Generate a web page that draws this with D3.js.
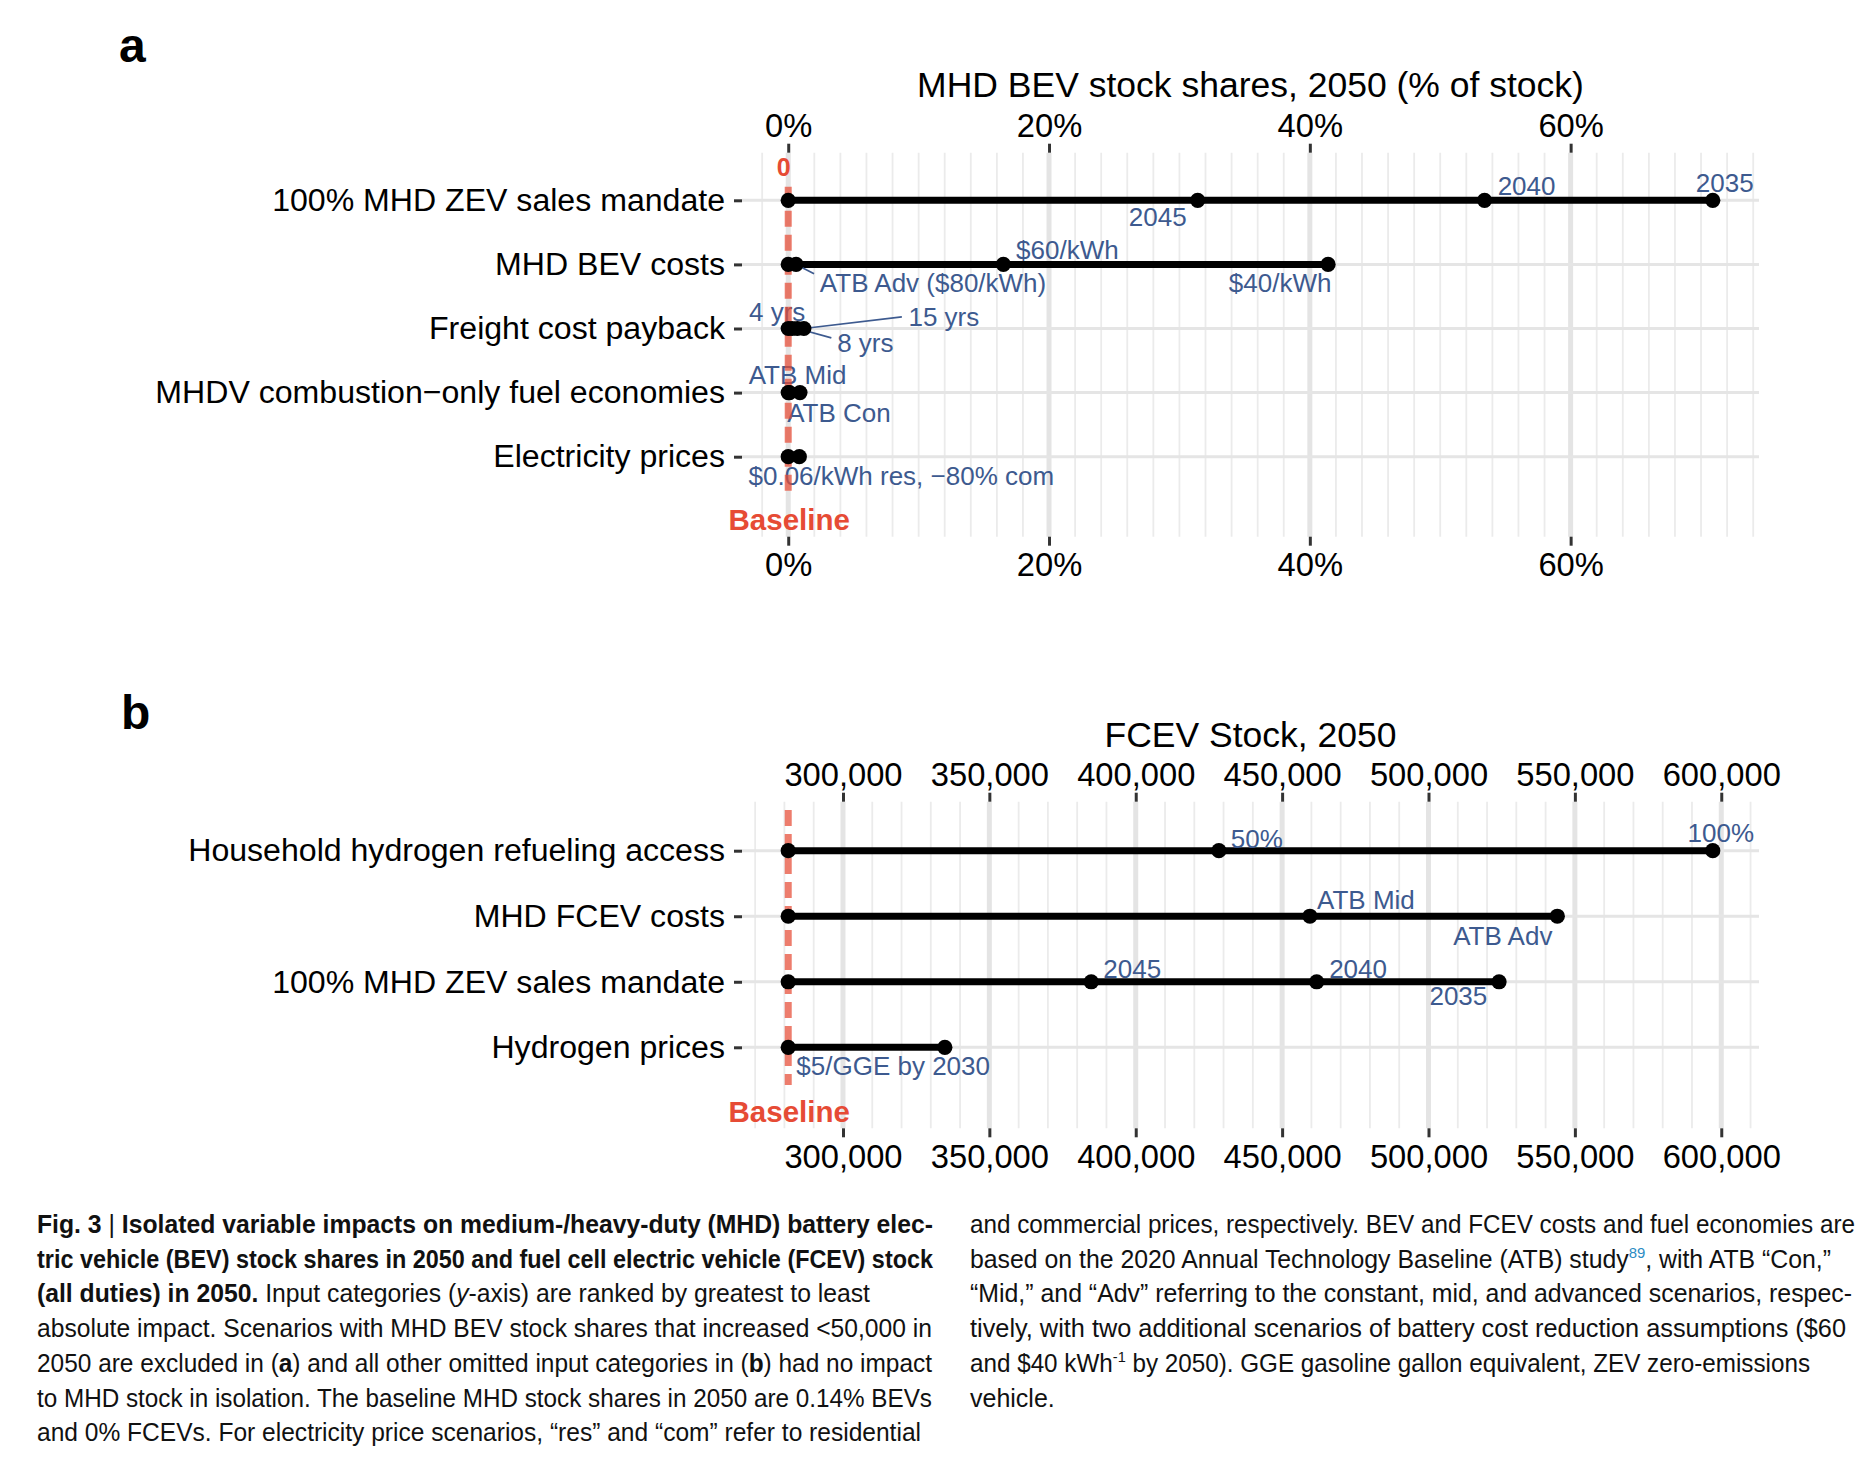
<!DOCTYPE html>
<html><head><meta charset="utf-8">
<script src="https://cdn.jsdelivr.net/npm/d3@7"></script>
<style>body{margin:0;background:#fff}svg{display:block}</style>
</head><body>
<svg id="c" width="1876" height="1459"></svg>
<script>
// ---------------- DATA ----------------
// Panel a: MHD BEV stock shares, 2050 (% of stock)
const bevCategories = ["100% MHD ZEV sales mandate", "MHD BEV costs", "Freight cost payback",
  "MHDV combustion\u2212only fuel economies", "Electricity prices"];
const bevBaseline = 0;
const bevScenarioCategory = ["100% MHD ZEV sales mandate","100% MHD ZEV sales mandate","100% MHD ZEV sales mandate",
  "MHD BEV costs","MHD BEV costs","MHD BEV costs",
  "Freight cost payback","Freight cost payback","Freight cost payback",
  "MHDV combustion\u2212only fuel economies","MHDV combustion\u2212only fuel economies",
  "Electricity prices"];
const bevScenarioLabels = ["2045","2040","2035","ATB Adv ($80/kWh)","$60/kWh","$40/kWh",
  "4 yrs","8 yrs","15 yrs","ATB Mid","ATB Con","$0.06/kWh res, \u221280% com"];
const bevShareValues = [31.4, 53.4, 70.9, 0.6, 16.5, 41.4, 0.3, 0.7, 1.2, 0.1, 0.9, 0.85];
const bevTicks = [0, 20, 40, 60];
const bevTickLabels = ["0%", "20%", "40%", "60%"];

// Panel b: FCEV Stock, 2050
const fcevCategories = ["Household hydrogen refueling access", "MHD FCEV costs",
  "100% MHD ZEV sales mandate", "Hydrogen prices"];
const fcevBaseline = 281300;
const fcevScenarioCategory = ["Household hydrogen refueling access","Household hydrogen refueling access",
  "MHD FCEV costs","MHD FCEV costs",
  "100% MHD ZEV sales mandate","100% MHD ZEV sales mandate","100% MHD ZEV sales mandate",
  "Hydrogen prices"];
const fcevScenarioLabels = ["50%","100%","ATB Mid","ATB Adv","2045","2040","2035","$5/GGE by 2030"];
const fcevStockValues = [428400, 597100, 459500, 544000, 384800, 461800, 524100, 334800];
const fcevTicks = [300000, 350000, 400000, 450000, 500000, 550000, 600000];
const fcevTickLabels = ["300,000","350,000","400,000","450,000","500,000","550,000","600,000"];

// ---------------- LAYOUT (label placement, px offsets from point) ----------------
const bevLabelDx = [-40, 42, 12, 137, 64, -48, -15, 68, 140, 8, 39, 102];
const bevLabelDy = [16.4, -14.3, -17, 18.7, -14.7, 18.7, -16.6, 14.4, -11.6, -17.3, 20.4, 19.3];
const bevSegEnd = {3: [18, 9.3], 7: [34, 9.4], 8: [98, -11.6]};
const fcevLabelDx = [38, 8, 56, -54.5, 41, 41.4, -40.7, -51.7];
const fcevLabelDy = [-11.4, -17.4, -16.7, 19.7, -12.4, -12.4, 14.3, 18.7];

const W = 1876, H = 1459;
const FONT = "'Liberation Sans', Arial, Helvetica, sans-serif";
const BLUE = "#3d5a8f", RED = "#e64b35";
const svg = d3.select("#c");
svg.append("rect").attr("width", W).attr("height", H).attr("fill", "#fff");

function panel(o) {
  const g = svg.append("g").attr("font-family", FONT);
  const all = [o.baseline, ...o.values];
  const lo = d3.min(all), hi = d3.max(all), pad = (hi - lo) * 0.05;
  const x = d3.scaleLinear().domain([lo - pad, hi + pad]).range([o.left, o.right]);
  const y = d3.scalePoint().domain(o.categories).range([o.rowTop, o.rowBottom]);

  // minor vertical grid
  g.append("g").selectAll("line").data(o.minor).join("line")
    .attr("x1", d => x(d)).attr("x2", d => x(d)).attr("y1", o.top).attr("y2", o.bottom)
    .attr("stroke", "#ebebeb").attr("stroke-width", 1.8);
  // major vertical grid
  g.append("g").selectAll("line").data(o.ticks).join("line")
    .attr("x1", d => x(d)).attr("x2", d => x(d)).attr("y1", o.top).attr("y2", o.bottom)
    .attr("stroke", "#e4e4e4").attr("stroke-width", 5);
  // horizontal grid
  g.append("g").selectAll("line").data(o.categories).join("line")
    .attr("x1", o.left).attr("x2", o.right).attr("y1", d => y(d)).attr("y2", d => y(d))
    .attr("stroke", "#e5e5e5").attr("stroke-width", 3);

  const fmt = d => o.tickLabels[o.ticks.indexOf(d)];
  const styleAxis = sel => {
    sel.select(".domain").remove();
    sel.selectAll(".tick line").attr("stroke", "#333").attr("stroke-width", 3);
    sel.selectAll(".tick text").attr("fill", "#000").attr("font-size", 32.7).attr("font-family", FONT);
  };
  g.append("g").attr("transform", `translate(0,${o.top})`)
    .call(d3.axisTop(x).tickValues(o.ticks).tickFormat(fmt).tickSize(9).tickPadding(7)).call(styleAxis);
  g.append("g").attr("transform", `translate(0,${o.bottom})`)
    .call(d3.axisBottom(x).tickValues(o.ticks).tickFormat(fmt).tickSize(9).tickPadding(7)).call(styleAxis);
  const ya = g.append("g").attr("transform", `translate(${o.left},0)`)
    .call(d3.axisLeft(y).tickSize(8).tickPadding(9));
  ya.select(".domain").remove();
  ya.selectAll(".tick line").attr("stroke", "#333").attr("stroke-width", 3);
  ya.selectAll(".tick text").attr("fill", "#000").attr("font-size", 32.1).attr("font-family", FONT);

  // title
  g.append("text").attr("x", (o.left + o.right) / 2).attr("y", o.titleY)
    .attr("text-anchor", "middle").attr("font-size", 35.5).attr("fill", "#000").text(o.title);

  // range segments
  const rows = o.categories.map(c => {
    const v = [o.baseline, ...o.values.filter((d, i) => o.cat[i] === c)];
    return {c, lo: d3.min(v), hi: d3.max(v)};
  });
  g.append("g").selectAll("line").data(rows).join("line")
    .attr("x1", d => x(d.lo)).attr("x2", d => x(d.hi)).attr("y1", d => y(d.c)).attr("y2", d => y(d.c))
    .attr("stroke", "#000").attr("stroke-width", 7);

  // connectors
  const idx = o.values.map((d, i) => i);
  g.append("g").selectAll("line").data(idx.filter(i => o.seg[i])).join("line")
    .attr("x1", i => x(o.values[i])).attr("y1", i => y(o.cat[i]))
    .attr("x2", i => x(o.values[i]) + o.seg[i][0]).attr("y2", i => y(o.cat[i]) + o.seg[i][1])
    .attr("stroke", BLUE).attr("stroke-width", 1.7);
  // scenario labels
  g.append("g").selectAll("text").data(idx).join("text")
    .attr("x", i => x(o.values[i]) + o.dx[i]).attr("y", i => y(o.cat[i]) + o.dy[i])
    .attr("text-anchor", "middle").attr("dominant-baseline", "central")
    .attr("font-size", 26).attr("fill", BLUE).text(i => o.labels[i]);

  // baseline dashed line
  g.append("line").attr("x1", x(o.baseline)).attr("x2", x(o.baseline))
    .attr("y1", o.dashTop).attr("y2", o.dashBottom)
    .attr("stroke", RED).attr("stroke-opacity", 0.72).attr("stroke-width", 7)
    .attr("stroke-dasharray", "16,8");

  // points
  const pts = [];
  o.categories.forEach(c => pts.push({c, v: o.baseline}));
  o.values.forEach((v, i) => pts.push({c: o.cat[i], v}));
  g.append("g").selectAll("circle").data(pts).join("circle")
    .attr("cx", d => x(d.v)).attr("cy", d => y(d.c)).attr("r", 7.6).attr("fill", "#000");

  if (o.zeroLabelY) {
    g.append("text").attr("x", x(o.baseline) - 4.5).attr("y", o.zeroLabelY)
      .attr("text-anchor", "middle").attr("dominant-baseline", "central")
      .attr("font-size", 25).attr("font-weight", 700).attr("fill", RED).text("0");
  }
  g.append("text").attr("x", x(o.baseline) + 1).attr("y", o.baselineLabelY)
    .attr("text-anchor", "middle").attr("dominant-baseline", "central")
    .attr("font-size", 29.5).attr("font-weight", 700).attr("fill", RED).text("Baseline");

  svg.append("text").attr("x", o.letterX).attr("y", o.letterY).attr("font-family", FONT)
    .attr("font-size", 48).attr("font-weight", 700).attr("fill", "#000").text(o.letter);
}

panel({
  categories: bevCategories, baseline: bevBaseline, values: bevShareValues,
  cat: bevScenarioCategory, labels: bevScenarioLabels,
  dx: bevLabelDx, dy: bevLabelDy, seg: bevSegEnd,
  ticks: bevTicks, tickLabels: bevTickLabels, minor: d3.range(-2, 75, 2),
  left: 742, right: 1759, top: 152.7, bottom: 536.7, rowTop: 200.3, rowBottom: 456.7,
  dashTop: 186.7, dashBottom: 493, titleY: 97,
  title: "MHD BEV stock shares, 2050 (% of stock)",
  zeroLabelY: 167.3, baselineLabelY: 519.3, letter: "a", letterX: 119, letterY: 62
});
panel({
  categories: fcevCategories, baseline: fcevBaseline, values: fcevStockValues,
  cat: fcevScenarioCategory, labels: fcevScenarioLabels,
  dx: fcevLabelDx, dy: fcevLabelDy, seg: {},
  ticks: fcevTicks, tickLabels: fcevTickLabels, minor: d3.range(270000, 610001, 10000),
  left: 742, right: 1759, top: 801.7, bottom: 1128.3, rowTop: 850.7, rowBottom: 1047.3,
  dashTop: 810, dashBottom: 1085, titleY: 747,
  title: "FCEV Stock, 2050",
  zeroLabelY: null, baselineLabelY: 1111.7, letter: "b", letterX: 121, letterY: 729
});

// ---------------- CAPTION ----------------
const captionLeft = [
  [["Fig. 3", "b"], [" | ", "r"], ["Isolated variable impacts on medium-/heavy-duty (MHD) battery elec-", "b"]],
  [["tric vehicle (BEV) stock shares in 2050 and fuel cell electric vehicle (FCEV) stock", "b"]],
  [["(all duties) in 2050.", "b"], [" Input categories (", "r"], ["y", "i"], ["-axis) are ranked by greatest to least", "r"]],
  [["absolute impact. Scenarios with MHD BEV stock shares that increased <50,000 in", "r"]],
  [["2050 are excluded in (", "r"], ["a", "b"], [") and all other omitted input categories in (", "r"], ["b", "b"], [") had no impact", "r"]],
  [["to MHD stock in isolation. The baseline MHD stock shares in 2050 are 0.14% BEVs", "r"]],
  [["and 0% FCEVs. For electricity price scenarios, \u201cres\u201d and \u201ccom\u201d refer to residential", "r"]]
];
const captionRight = [
  [["and commercial prices, respectively. BEV and FCEV costs and fuel economies are", "r"]],
  [["based on the 2020 Annual Technology Baseline (ATB) study", "r"], ["89", "sup"], [", with ATB \u201cCon,\u201d", "r"]],
  [["\u201cMid,\u201d and \u201cAdv\u201d referring to the constant, mid, and advanced scenarios, respec-", "r"]],
  [["tively, with two additional scenarios of battery cost reduction assumptions ($60", "r"]],
  [["and $40 kWh", "r"], ["-1", "supk"], [" by 2050). GGE gasoline gallon equivalent, ZEV zero-emissions", "r"]],
  [["vehicle.", "r"]]
];
const capLeftWidths = [896, 896, 833, 895, 895, 895, 884];
const capRightWidths = [885, 861, 882, 876, 840, null];

const CAPFONT = "'Liberation Sans Narrow', 'Arial Narrow', 'Liberation Sans', sans-serif";
function caption(lines, widths, x0) {
  lines.forEach((segs, li) => {
    const t = svg.append("text").attr("x", x0).attr("y", 1233 + li * 34.7)
      .attr("font-family", CAPFONT).attr("font-size", 25).attr("fill", "#111");
    if (widths[li]) t.attr("textLength", widths[li]).attr("lengthAdjust", "spacingAndGlyphs");
    let raised = false;
    segs.forEach(([txt, st]) => {
      const ts = t.append("tspan").text(txt);
      if (st === "b") ts.attr("font-weight", 700);
      if (st === "i") ts.attr("font-style", "italic");
      if (st === "sup" || st === "supk") {
        ts.attr("font-size", 15).attr("dy", -10);
        if (st === "sup") ts.attr("fill", "#2b8cc4");
        raised = true;
      } else if (raised) {
        ts.attr("dy", 10); raised = false;
      }
    });
  });
}
caption(captionLeft, capLeftWidths, 37);
caption(captionRight, capRightWidths, 970);
</script>
</body></html>
